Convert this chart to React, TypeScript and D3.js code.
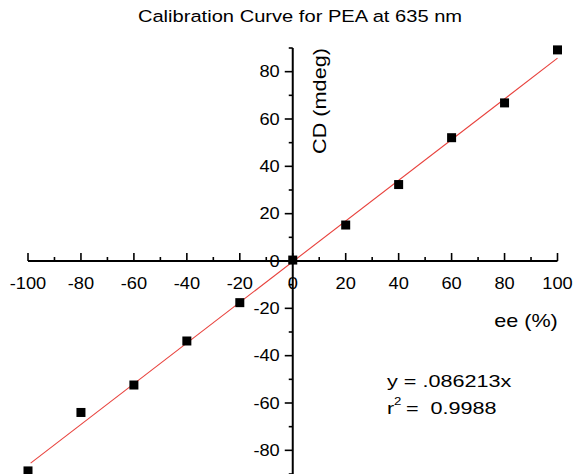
import React from 'react';
import * as d3 from 'd3';

// measured points: ee (%) vs CD (mdeg)
const eeValues = [-100, -80, -60, -40, -20, 0, 20, 40, 60, 80, 100];
const cdValues = [-88.7, -64.0, -52.4, -33.8, -17.6, 0.4, 15.2, 32.3, 52.1, 66.8, 89.2];

// linear fit end points as drawn
const fitX = [-99, 100];
const fitY = [-85.4, 85.7];

const xMajorTicks = [-100, -80, -60, -40, -20, 0, 20, 40, 60, 80, 100];
const yMajorTicks = [-80, -60, -40, -20, 0, 20, 40, 60, 80];
const xMinorTicks = [-90, -70, -50, -30, -10, 10, 30, 50, 70, 90];
const yMinorTicks = [-90, -70, -50, -30, -10, 10, 30, 50, 70, 90];

const width = 574;
const height = 474;
const font = '"Liberation Sans", Arial, sans-serif';

// text that is a bit wider than the font, like the original export
const Txt = ({ x, y, sx = 1.14, size = 16, anchor = 'middle', rotate = 0, children }) => (
  <text
    transform={`translate(${x},${y}) rotate(${rotate}) scale(${sx},1)`}
    textAnchor={anchor}
    fontFamily={font}
    fontSize={size}
    fill="#000"
    style={{ whiteSpace: 'pre' }}
  >
    {children}
  </text>
);

const App = () => {
  const x = d3.scaleLinear().domain([-100, 100]).range([28, 557.5]);
  const y = d3.scaleLinear().domain([-90, 90]).range([474, 48]);

  const x0 = x(0);
  const y0 = y(0);

  const fitLine = d3.line()
    .x(d => x(d[0]))
    .y(d => y(d[1]));
  const fitPts = fitX.map((v, i) => [v, fitY[i]]);

  const marker = 9;

  return (
    <svg
      width={width}
      height={height}
      style={{ position: 'absolute', left: 0, top: 0, background: '#fff' }}
    >
      <rect width={width} height={height} fill="#fff" />

      {/* title */}
      <Txt x={300} y={22} size={16.5} sx={1.22}>Calibration Curve for PEA at 635 nm</Txt>

      {/* fit line */}
      <path d={fitLine(fitPts)} fill="none" stroke="#e8413c" strokeWidth={1.1} />

      {/* x axis */}
      <line x1={x(-100)} x2={x(100)} y1={y0} y2={y0} stroke="#000" strokeWidth={2} />
      {xMajorTicks.map(t => (
        <line key={'xM' + t} x1={x(t)} x2={x(t)} y1={y0} y2={y0 - 8} stroke="#000" strokeWidth={1.6} />
      ))}
      {xMinorTicks.map(t => (
        <line key={'xm' + t} x1={x(t)} x2={x(t)} y1={y0} y2={y0 - 4} stroke="#000" strokeWidth={1.6} />
      ))}

      {/* y axis */}
      <line x1={x0} x2={x0} y1={y(-90)} y2={y(90)} stroke="#000" strokeWidth={2} />
      {yMajorTicks.map(t => (
        <line key={'yM' + t} x1={x0} x2={x0 - 8} y1={y(t)} y2={y(t)} stroke="#000" strokeWidth={1.6} />
      ))}
      {yMinorTicks.map(t => (
        <line key={'ym' + t} x1={x0} x2={x0 - 4} y1={y(t)} y2={y(t)} stroke="#000" strokeWidth={1.6} />
      ))}

      {/* points */}
      {eeValues.map((v, i) => (
        <rect
          key={'p' + v}
          x={x(v) - marker / 2}
          y={y(cdValues[i]) - marker / 2}
          width={marker}
          height={marker}
          fill="#000"
        />
      ))}

      {/* tick labels */}
      {xMajorTicks.map(t => (
        <Txt key={'xl' + t} x={x(t)} y={y0 + 28}>{t}</Txt>
      ))}
      {yMajorTicks.map(t => (
        <Txt key={'yl' + t} x={x0 - 13} y={y(t) + 5.5} anchor="end">{t}</Txt>
      ))}

      {/* axis titles */}
      <Txt x={526} y={327} size={18} sx={1.2}>ee (%)</Txt>
      <text
        transform="translate(326,101) rotate(-90)"
        textAnchor="middle"
        fontFamily={font}
        fontSize={18}
        textLength={106}
        lengthAdjust="spacingAndGlyphs"
        fill="#000"
      >
        CD (mdeg)
      </text>

      {/* fit annotation */}
      <Txt x={387} y={387} size={17} sx={1.27} anchor="start">y = .086213x</Txt>
      <Txt x={387} y={414} size={17} sx={1.27} anchor="start">r</Txt>
      <Txt x={394} y={405} size={11} sx={1.2} anchor="start">2</Txt>
      <Txt x={406} y={414} size={17} sx={1.27} anchor="start">{'=  0.9988'}</Txt>
    </svg>
  );
};

export default App;
